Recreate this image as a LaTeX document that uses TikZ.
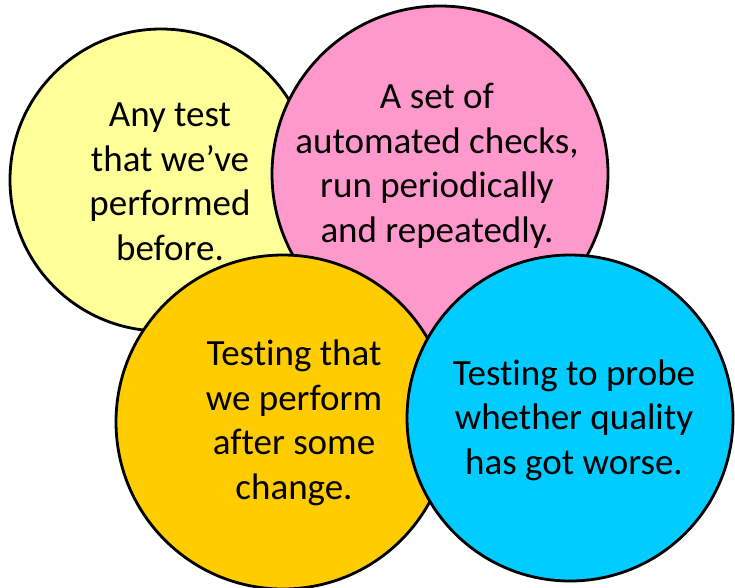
\documentclass[tikz,border=0pt]{standalone}
\usepackage{fontspec}
\setmainfont{Carlito}[Ligatures=NoCommon]
\usetikzlibrary{positioning}

\definecolor{softyellow}{HTML}{FFFF99}
\definecolor{softpink}{HTML}{FF99CC}
\definecolor{gold}{HTML}{FFCC00}
\definecolor{skyblue}{HTML}{00CCFF}

\tikzset{
    bubble/.style={circle,draw=black,line width=2.8pt,inner sep=0pt},
    bubbletext/.style={align=center,font=\fontsize{37}{44.5}\selectfont}
}

\begin{document}
\begin{tikzpicture}[x=1pt,y=-1pt]
    \useasboundingbox (0,0) rectangle (735,587);
    % the four circles, back to front
    \node[bubble,fill=softyellow,minimum size=302pt] (old) at (161,180) {};
    \node[bubble,fill=softpink,minimum size=336pt] (auto) at (440,174) {};
    \node[bubble,fill=gold,minimum size=334pt] (change) at (283,422) {};
    \node[bubble,fill=skyblue,minimum size=326pt] (worse) at (570,418) {};
    % texts
    \node[bubbletext] (oldtxt) at (170,182) {Any test\\that we’ve\\performed\\before.};
    \node[bubbletext] (autotxt) at (437,166) {A set of\\automated checks,\\run periodically\\and repeatedly.};
    \node[bubbletext] (changetxt) at (294,423) {Testing that\\we perform\\after some\\change.};
    \node[bubbletext] (worsetxt) at (574,420) {Testing to probe\\whether quality\\has got worse.};
\end{tikzpicture}
\end{document}
